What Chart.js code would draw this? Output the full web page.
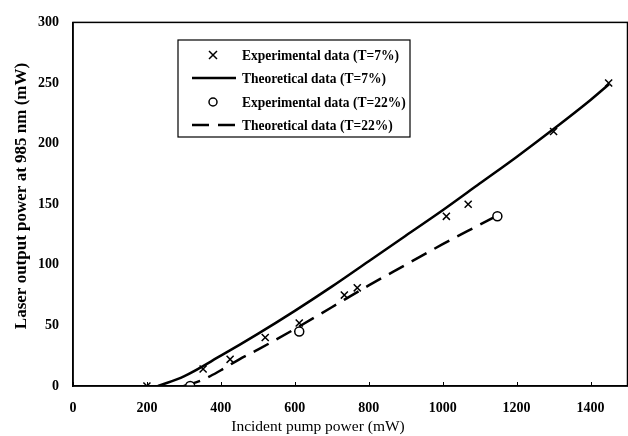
<!DOCTYPE html>
<html>
<head>
<meta charset="utf-8">
<script src="https://cdn.jsdelivr.net/npm/chart.js@4.4.1/dist/chart.umd.min.js"></script>
<style>
  html, body { margin: 0; padding: 0; background: #fff; overflow: hidden; }
  #wrap { width: 628px; height: 436px; overflow: hidden; }
</style>
</head>
<body>
<div id="wrap"><canvas id="laser-chart" width="634" height="436"></canvas></div>
<script>
// experimental points, T=7%
const exp7X = [200, 352, 425, 520, 612, 734, 769, 1010, 1069, 1300, 1449];
const exp7Y = [0, 14, 22, 40, 52, 75, 81, 140, 150, 210, 250];

// theoretical curve, T=7%
const theo7X = [230, 300, 400, 500, 600, 700, 800, 900, 1000, 1100, 1200, 1300, 1400, 1450];
const theo7Y = [0, 8, 25, 43, 62, 82, 103, 124, 145, 167, 189, 212, 236, 249];

// experimental points, T=22%
const exp22X = [317, 612, 1148];
const exp22Y = [0, 45, 140];

// theoretical curve, T=22%
const theo22X = [300, 350, 400, 450, 500, 600, 700, 800, 900, 1000, 1100, 1150];
const theo22Y = [0, 5, 13, 22, 30, 47, 65, 83, 100, 117, 133, 141];

const xTicks = [0, 200, 400, 600, 800, 1000, 1200, 1400];
const yTicks = [0, 50, 100, 150, 200, 250, 300];

const xTitle = 'Incident pump power (mW)';
const yTitle = 'Laser output power at 985 nm (mW)';

function pts(xs, ys) {
    return xs.map((x, i) => ({ x: x, y: ys[i] }));
}

const serif = "'Liberation Serif', 'Times New Roman', serif";

// box round the plot area, small inner ticks, axis titles
const frame = {
    id: 'frame',
    afterDraw(chart) {
        const c = chart.ctx, a = chart.chartArea;
        c.save();
        c.strokeStyle = '#000';
        c.lineWidth = 1.5;
        c.strokeRect(a.left, a.top, a.right - a.left, a.bottom - a.top);
        c.lineWidth = 1;
        c.beginPath();
        xTicks.forEach(v => {
            const px = Math.round(chart.scales.x.getPixelForValue(v)) + 0.5;
            c.moveTo(px, a.bottom);
            c.lineTo(px, a.bottom - 4);
        });
        c.stroke();

        c.fillStyle = '#000';
        c.textAlign = 'center';
        c.textBaseline = 'middle';
        c.font = '15.5px ' + serif;
        c.fillText(xTitle, 318, 427);

        c.translate(22, 196);
        c.rotate(-Math.PI / 2);
        c.font = 'bold 17px ' + serif;
        const w = c.measureText(yTitle).width;
        c.fillText(yTitle, 0, 0, Math.min(w, 278));
        c.restore();
    }
};

// legend box drawn inside the plot
const boxLegend = {
    id: 'boxLegend',
    afterDraw(chart) {
        const c = chart.ctx;
        const left = 178, top = 40, w = 232, h = 97;
        c.save();
        c.fillStyle = '#fff';
        c.fillRect(left, top, w, h);
        c.strokeStyle = '#000';
        c.lineWidth = 1.2;
        c.strokeRect(left, top, w, h);
        c.font = 'bold 15px ' + serif;
        c.textBaseline = 'middle';
        c.fillStyle = '#000';
        const rows = [55, 78, 102, 125];
        chart.data.datasets.forEach((ds, i) => {
            const y = rows[i];
            c.strokeStyle = '#000';
            if (ds.showLine === false) {
                c.lineWidth = 1.5;
                if (ds.pointStyle === 'crossRot') {
                    c.beginPath();
                    c.moveTo(209, y - 4); c.lineTo(217, y + 4);
                    c.moveTo(217, y - 4); c.lineTo(209, y + 4);
                    c.stroke();
                } else {
                    c.beginPath();
                    c.arc(213, y, 4, 0, Math.PI * 2);
                    c.stroke();
                }
            } else {
                c.lineWidth = 2.5;
                c.setLineDash(ds.borderDash || []);
                c.beginPath();
                c.moveTo(192, y); c.lineTo(236, y);
                c.stroke();
                c.setLineDash([]);
            }
            const tw = c.measureText(ds.label).width;
            c.fillText(ds.label, 242, y + 1, tw * 0.9);
        });
        c.restore();
    }
};

const ctx = document.getElementById('laser-chart').getContext('2d');

const myChart = new Chart(ctx, {
    type: 'scatter',
    data: {
        datasets: [{
            label: 'Experimental data (T=7%)',
            data: pts(exp7X, exp7Y),
            showLine: false,
            pointStyle: 'crossRot',
            pointRadius: 5,
            borderColor: '#000',
            borderWidth: 1.5,
            backgroundColor: '#000'
        }, {
            label: 'Theoretical data (T=7%)',
            data: pts(theo7X, theo7Y),
            showLine: true,
            pointRadius: 0,
            borderColor: '#000',
            borderWidth: 2.5,
            cubicInterpolationMode: 'monotone'
        }, {
            label: 'Experimental data (T=22%)',
            data: pts(exp22X, exp22Y),
            showLine: false,
            pointStyle: 'circle',
            pointRadius: 4.5,
            borderColor: '#000',
            borderWidth: 1.5,
            backgroundColor: '#fff'
        }, {
            label: 'Theoretical data (T=22%)',
            data: pts(theo22X, theo22Y),
            showLine: true,
            pointRadius: 0,
            borderColor: '#000',
            borderWidth: 2.5,
            borderDash: [17, 9],
            cubicInterpolationMode: 'monotone'
        }]
    },
    options: {
        responsive: false,
        animation: false,
        layout: {
            padding: { top: 14, right: 0, left: 0, bottom: 0 }
        },
        scales: {
            x: {
                type: 'linear',
                min: 0,
                max: 1500,
                afterFit(scale) {
                    scale.height = 50;
                },
                afterBuildTicks(scale) { scale.ticks = xTicks.map(v => ({ value: v })); },
                grid: { display: false, drawTicks: false },
                border: { color: '#000', width: 1.5 },
                ticks: {
                    padding: 14,
                    color: '#000',
                    callback: v => String(v),
                    font: { family: serif, size: 14, weight: 'bold' }
                }
            },
            y: {
                min: 0,
                max: 300,
                afterFit(scale) { scale.width = 73; },
                afterBuildTicks(scale) { scale.ticks = yTicks.map(v => ({ value: v })); },
                grid: { display: false, drawTicks: false },
                border: { color: '#000', width: 1.5 },
                ticks: {
                    padding: 14,
                    color: '#000',
                    callback: v => String(v),
                    font: { family: serif, size: 14, weight: 'bold' }
                }
            }
        },
        plugins: {
            legend: { display: false },
            tooltip: { enabled: false }
        }
    },
    plugins: [frame, boxLegend]
});
</script>
</body>
</html>
